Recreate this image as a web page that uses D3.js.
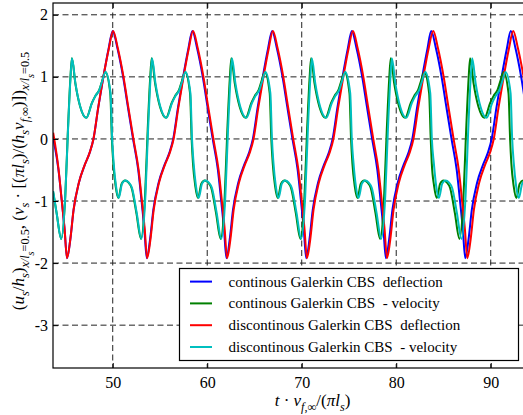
<!DOCTYPE html>
<html>
<head>
<meta charset="utf-8">
<script src="https://cdn.jsdelivr.net/npm/d3@7"></script>
<style>
  body { margin: 0; background: #fff; }
  svg { display: block; font-family: "Liberation Serif", "DejaVu Serif", serif; }
  text { white-space: pre; }
</style>
</head>
<body>
<svg id="chart" width="523" height="415"></svg>
<script>
// tick values
const xTicks = [50, 60, 70, 80, 90];
const yTicks = [-3, -2, -1, 0, 1, 2];

// continous Galerkin CBS deflection  [t, u]
const cgDeflection = [
  [43.7,0.02],[44.26,-0.5],[44.61,-1.0],[44.91,-1.46],[45.16,-1.92],[45.51,-1.62],[45.86,-1.14],[46.41,-0.71],[47.06,-0.41],[47.56,-0.22],[47.96,0],[48.46,0.5],[49.01,1.0],[49.56,1.45],
  [50.0,1.74],[50.5,1.46],[51.1,1.0],[51.6,0.52],[52.15,0],[52.7,-0.5],[53.05,-1.0],[53.35,-1.46],[53.6,-1.92],[53.95,-1.62],[54.3,-1.14],[54.85,-0.71],[55.5,-0.41],[56.0,-0.22],[56.4,0],[56.9,0.5],[57.45,1.0],[58.0,1.45],
  [58.43,1.74],[58.93,1.46],[59.53,1.0],[60.03,0.52],[60.58,0],[61.13,-0.5],[61.48,-1.0],[61.78,-1.46],[62.03,-1.92],[62.38,-1.62],[62.73,-1.14],[63.28,-0.71],[63.93,-0.41],[64.43,-0.22],[64.83,0],[65.33,0.5],[65.88,1.0],[66.43,1.45],
  [66.87,1.74],[67.37,1.46],[67.97,1.0],[68.47,0.52],[69.02,0],[69.57,-0.5],[69.92,-1.0],[70.22,-1.46],[70.47,-1.92],[70.82,-1.62],[71.17,-1.14],[71.72,-0.71],[72.37,-0.41],[72.87,-0.22],[73.27,0],[73.77,0.5],[74.32,1.0],[74.87,1.45],
  [75.3,1.74],[75.8,1.46],[76.4,1.0],[76.9,0.52],[77.45,0],[78.0,-0.5],[78.35,-1.0],[78.65,-1.46],[78.9,-1.92],[79.25,-1.62],[79.6,-1.14],[80.15,-0.71],[80.8,-0.41],[81.3,-0.22],[81.7,0],[82.2,0.5],[82.75,1.0],[83.3,1.45],
  [83.7,1.74],[84.2,1.46],[84.8,1.0],[85.3,0.52],[85.85,0],[86.4,-0.5],[86.75,-1.0],[87.05,-1.46],[87.3,-1.92],[87.65,-1.62],[88.0,-1.14],[88.55,-0.71],[89.2,-0.41],[89.7,-0.22],[90.1,0],[90.6,0.5],[91.15,1.0],[91.7,1.45],
  [92.12,1.74],[92.62,1.46],[93.22,1.0],[93.72,0.52],[94.27,0]
];

// continous Galerkin CBS velocity
const cgVelocity = [
  [43.7,-0.86],[44.06,-1.19],[44.55,-1.61],[44.98,-0.92],[45.26,0.15],[45.51,0.95],[45.68,1.30],[46.04,0.90],[46.56,0.52],[47.2,0.34],[47.8,0.58],[48.15,0.69],[48.58,0.79],[48.91,0.95],[49.21,1.08],[49.74,0.74],[49.91,0.0],
  [50.06,-0.39],[50.3,-0.75],[50.6,-0.95],[50.95,-0.72],[51.3,-0.67],[51.65,-0.70],[52.0,-0.79],[52.5,-1.19],[52.99,-1.61],[53.42,-0.92],[53.7,0.15],[53.95,0.95],[54.12,1.30],[54.48,0.90],[55.0,0.52],[55.64,0.34],[56.24,0.58],[56.59,0.69],[57.02,0.79],[57.35,0.95],[57.65,1.08],[58.18,0.74],[58.35,0.0],
  [58.49,-0.39],[58.73,-0.75],[59.03,-0.95],[59.38,-0.72],[59.73,-0.67],[60.08,-0.70],[60.43,-0.79],[60.93,-1.19],[61.42,-1.61],[61.85,-0.92],[62.13,0.15],[62.38,0.95],[62.55,1.30],[62.91,0.90],[63.43,0.52],[64.07,0.34],[64.67,0.58],[65.02,0.69],[65.45,0.79],[65.78,0.95],[66.08,1.08],[66.61,0.74],[66.78,0.0],
  [66.93,-0.39],[67.17,-0.75],[67.47,-0.95],[67.82,-0.72],[68.17,-0.67],[68.52,-0.70],[68.87,-0.79],[69.37,-1.19],[69.86,-1.61],[70.29,-0.92],[70.57,0.15],[70.82,0.95],[70.99,1.30],[71.35,0.90],[71.87,0.52],[72.51,0.34],[73.11,0.58],[73.46,0.69],[73.89,0.79],[74.22,0.95],[74.52,1.08],[75.05,0.74],[75.22,0.0],
  [75.36,-0.39],[75.6,-0.75],[75.9,-0.95],[76.25,-0.72],[76.6,-0.67],[76.95,-0.70],[77.3,-0.79],[77.8,-1.19],[78.29,-1.61],[78.72,-0.92],[79.0,0.15],[79.25,0.95],[79.42,1.30],[79.78,0.90],[80.3,0.52],[80.94,0.34],[81.54,0.58],[81.89,0.69],[82.32,0.79],[82.65,0.95],[82.95,1.08],[83.48,0.74],[83.65,0.0],
  [83.76,-0.39],[84.0,-0.75],[84.3,-0.95],[84.65,-0.72],[85.0,-0.67],[85.35,-0.70],[85.7,-0.79],[86.2,-1.19],[86.69,-1.61],[87.12,-0.92],[87.4,0.15],[87.65,0.95],[87.82,1.30],[88.18,0.90],[88.7,0.52],[89.34,0.34],[89.94,0.58],[90.29,0.69],[90.72,0.79],[91.05,0.95],[91.35,1.08],[91.88,0.74],[92.05,0.0],
  [92.18,-0.39],[92.42,-0.75],[92.72,-0.95],[93.07,-0.72],[93.42,-0.67],[93.77,-0.70],[94.12,-0.79]
];

// discontinous Galerkin CBS deflection
const dgDeflection = [
  [43.7,0.1],[44.26,-0.48],[44.61,-1.0],[44.91,-1.46],[45.16,-1.92],[45.51,-1.62],[45.86,-1.14],[46.41,-0.71],[47.06,-0.41],[47.56,-0.22],[47.96,0],[48.46,0.5],[49.01,1.0],[49.58,1.45],
  [50.04,1.74],[50.54,1.46],[51.14,1.0],[51.64,0.52],[52.19,0],[52.74,-0.5],[53.09,-1.0],[53.39,-1.46],[53.64,-1.92],[53.99,-1.62],[54.34,-1.14],[54.89,-0.71],[55.54,-0.41],[56.04,-0.22],[56.44,0],[56.94,0.5],[57.49,1.0],[58.04,1.45],
  [58.5,1.74],[59.0,1.46],[59.6,1.0],[60.1,0.52],[60.65,0],[61.2,-0.5],[61.55,-1.0],[61.85,-1.46],[62.1,-1.92],[62.45,-1.62],[62.8,-1.14],[63.35,-0.71],[64.0,-0.41],[64.5,-0.22],[64.9,0],[65.4,0.5],[65.95,1.0],[66.5,1.45],
  [66.95,1.74],[67.45,1.46],[68.05,1.0],[68.55,0.52],[69.1,0],[69.65,-0.5],[70.0,-1.0],[70.3,-1.46],[70.55,-1.92],[70.9,-1.62],[71.25,-1.14],[71.8,-0.71],[72.45,-0.41],[72.95,-0.22],[73.35,0],[73.85,0.5],[74.4,1.0],[74.95,1.45],
  [75.42,1.74],[75.92,1.46],[76.52,1.0],[77.02,0.52],[77.57,0],[78.12,-0.5],[78.47,-1.0],[78.77,-1.46],[79.02,-1.92],[79.37,-1.62],[79.72,-1.14],[80.27,-0.71],[80.92,-0.41],[81.42,-0.22],[81.82,0],[82.32,0.5],[82.87,1.0],[83.42,1.45],
  [83.92,1.74],[84.42,1.46],[85.02,1.0],[85.52,0.52],[86.07,0],[86.62,-0.5],[86.97,-1.0],[87.27,-1.46],[87.52,-1.92],[87.87,-1.62],[88.22,-1.14],[88.77,-0.71],[89.42,-0.41],[89.92,-0.22],[90.32,0],[90.82,0.5],[91.37,1.0],[91.92,1.45],
  [92.38,1.74],[92.88,1.46],[93.48,1.0],[93.98,0.52],[94.53,0]
];

// discontinous Galerkin CBS velocity
const dgVelocity = [
  [43.7,-0.84],[44.06,-1.19],[44.55,-1.61],[44.98,-0.92],[45.27,0.15],[45.52,0.95],[45.69,1.30],[46.05,0.90],[46.57,0.52],[47.21,0.34],[47.81,0.58],[48.16,0.69],[48.59,0.79],[48.92,0.95],[49.23,1.08],[49.77,0.74],[49.94,0.0],
  [50.1,-0.39],[50.34,-0.75],[50.64,-0.95],[50.99,-0.72],[51.34,-0.67],[51.69,-0.70],[52.04,-0.79],[52.54,-1.19],[53.03,-1.61],[53.46,-0.92],[53.74,0.15],[53.99,0.95],[54.16,1.30],[54.52,0.90],[55.04,0.52],[55.68,0.34],[56.28,0.58],[56.63,0.69],[57.06,0.79],[57.39,0.95],[57.69,1.08],[58.22,0.74],[58.39,0.0],
  [58.56,-0.39],[58.8,-0.75],[59.1,-0.95],[59.45,-0.72],[59.8,-0.67],[60.15,-0.70],[60.5,-0.79],[61.0,-1.19],[61.49,-1.61],[61.92,-0.92],[62.2,0.15],[62.45,0.95],[62.62,1.30],[62.98,0.90],[63.5,0.52],[64.14,0.34],[64.74,0.58],[65.09,0.69],[65.52,0.79],[65.85,0.95],[66.15,1.08],[66.68,0.74],[66.85,0.0],
  [67.01,-0.39],[67.25,-0.75],[67.55,-0.95],[67.9,-0.72],[68.25,-0.67],[68.6,-0.70],[68.95,-0.79],[69.45,-1.19],[69.94,-1.61],[70.37,-0.92],[70.65,0.15],[70.9,0.95],[71.07,1.30],[71.43,0.90],[71.95,0.52],[72.59,0.34],[73.19,0.58],[73.54,0.69],[73.97,0.79],[74.3,0.95],[74.6,1.08],[75.13,0.74],[75.3,0.0],
  [75.48,-0.39],[75.72,-0.75],[76.02,-0.95],[76.37,-0.72],[76.72,-0.67],[77.07,-0.70],[77.42,-0.79],[77.92,-1.19],[78.41,-1.61],[78.84,-0.92],[79.12,0.15],[79.37,0.95],[79.54,1.30],[79.9,0.90],[80.42,0.52],[81.06,0.34],[81.66,0.58],[82.01,0.69],[82.44,0.79],[82.77,0.95],[83.07,1.08],[83.6,0.74],[83.77,0.0],
  [83.98,-0.39],[84.22,-0.75],[84.52,-0.95],[84.87,-0.72],[85.22,-0.67],[85.57,-0.70],[85.92,-0.79],[86.42,-1.19],[86.91,-1.61],[87.34,-0.92],[87.62,0.15],[87.87,0.95],[88.04,1.30],[88.4,0.90],[88.92,0.52],[89.56,0.34],[90.16,0.58],[90.51,0.69],[90.94,0.79],[91.27,0.95],[91.57,1.08],[92.1,0.74],[92.27,0.0],
  [92.44,-0.39],[92.68,-0.75],[92.98,-0.95],[93.33,-0.72],[93.68,-0.67],[94.03,-0.70],[94.38,-0.79]
];

const seriesNames = [
  "continous Galerkin CBS  deflection",
  "continous Galerkin CBS  - velocity",
  "discontinous Galerkin CBS  deflection",
  "discontinous Galerkin CBS  - velocity"
];
const seriesColors = ["#0000ff", "#008000", "#ff0000", "#00bfbf"];
const seriesData = [cgDeflection, cgVelocity, dgDeflection, dgVelocity];

// plot area (axes run past the right edge of the picture)
const plotL = 53, plotT = 3, plotR = 572, plotB = 368;

const svg = d3.select("#chart");

const x = d3.scaleLinear().domain([43.68, 98.6]).range([plotL, plotR]);
const y = d3.scaleLinear().domain([-3.69, 2.19]).range([plotB, plotT]);

svg.append("defs").append("clipPath").attr("id", "clip")
  .append("rect").attr("x", plotL).attr("y", plotT)
  .attr("width", plotR - plotL).attr("height", plotB - plotT);

// dashed grid
const grid = svg.append("g").attr("stroke", "#222").attr("stroke-width", 1)
  .attr("stroke-dasharray", "6,3.5");
grid.selectAll(".gx").data(xTicks).enter().append("line")
  .attr("x1", d => x(d)).attr("x2", d => x(d))
  .attr("y1", plotT).attr("y2", plotB);
grid.selectAll(".gy").data(yTicks).enter().append("line")
  .attr("x1", plotL).attr("x2", plotR)
  .attr("y1", d => y(d)).attr("y2", d => y(d));

// lines
const line = d3.line()
  .x(d => x(d[0]))
  .y(d => y(d[1]))
  .curve(d3.curveMonotoneX);

svg.append("g").attr("clip-path", "url(#clip)")
  .selectAll("path").data(seriesData).enter().append("path")
  .attr("d", line)
  .attr("fill", "none")
  .attr("stroke", (d, i) => seriesColors[i])
  .attr("stroke-width", 2);

// axes frame
svg.append("rect").attr("x", plotL).attr("y", plotT)
  .attr("width", plotR - plotL).attr("height", plotB - plotT)
  .attr("fill", "none").attr("stroke", "#000").attr("stroke-width", 1.2);

// inward ticks
const xAxisB = d3.axisBottom(x).tickValues(xTicks).tickSize(-5).tickPadding(9).tickFormat(d3.format("d"));
const xAxisT = d3.axisTop(x).tickValues(xTicks).tickSize(-5).tickFormat("");
const yAxisL = d3.axisLeft(y).tickValues(yTicks).tickSize(-5).tickPadding(5).tickFormat(d => d < 0 ? "-" + Math.abs(d) : d);

function styleAxis(g) {
  g.select(".domain").remove();
  g.selectAll("line").attr("stroke", "#000");
  g.selectAll("text").attr("fill", "#000")
    .style("font-family", "Liberation Serif, serif").style("font-size", "16px");
}
svg.append("g").attr("transform", `translate(0,${plotB})`).call(xAxisB).call(styleAxis);
svg.append("g").attr("transform", `translate(0,${plotT})`).call(xAxisT).call(styleAxis);
svg.append("g").attr("transform", `translate(${plotL},0)`).call(yAxisL).call(styleAxis);

// legend
const legend = svg.append("g");
legend.append("rect")
  .attr("x", 179.5).attr("y", 268.5).attr("width", 339).attr("height", 92)
  .attr("fill", "#fff").attr("stroke", "#000").attr("stroke-width", 1.2);
const rows = legend.selectAll(".row").data(seriesNames).enter().append("g")
  .attr("transform", (d, i) => `translate(0,${281.6 + i * 21.8})`);
rows.append("line").attr("x1", 190).attr("x2", 212).attr("y1", 0).attr("y2", 0)
  .attr("stroke", (d, i) => seriesColors[i]).attr("stroke-width", 2);
rows.append("text").attr("x", 228.5).attr("y", 5)
  .style("font-size", "15px").text(d => d);

// math-like text with italics and subscripts
function mathText(sel, parts, size) {
  let cur = 0;
  parts.forEach(p => {
    const lvl = p.s || 0;
    const off = lvl * size * 0.28;
    sel.append("tspan")
      .attr("dy", off - cur)
      .style("font-size", (lvl === 0 ? size : lvl === 1 ? size * 0.72 : size * 0.6) + "px")
      .style("font-style", p.i ? "italic" : "normal")
      .text(p.t);
    cur = off;
  });
}

const xLabel = svg.append("text").attr("x", 312.5).attr("y", 406).attr("text-anchor", "middle");
mathText(xLabel, [
  {t: "t", i: 1}, {t: " · "}, {t: "v", i: 1}, {t: "f", i: 1, s: 1}, {t: ",∞", s: 1},
  {t: "/("}, {t: "πl", i: 1}, {t: "s", i: 1, s: 1}, {t: ")"}
], 17);

const yLabel = svg.append("text")
  .attr("transform", "translate(24,181) rotate(-90)")
  .attr("text-anchor", "middle");
mathText(yLabel, [
  {t: "("}, {t: "u", i: 1}, {t: "s", i: 1, s: 1}, {t: "/"}, {t: "h", i: 1}, {t: "s", i: 1, s: 1}, {t: ")"},
  {t: "x/l", i: 1, s: 1}, {t: "s", i: 1, s: 2}, {t: "=0.5", s: 1},
  {t: ", ("}, {t: "v", i: 1}, {t: "s", i: 1, s: 1}, {t: " · [("}, {t: "πl", i: 1}, {t: "s", i: 1, s: 1},
  {t: ")/("}, {t: "h", i: 1}, {t: "s", i: 1, s: 1}, {t: "v", i: 1}, {t: "f", i: 1, s: 1}, {t: ",∞", s: 1},
  {t: ")])"}, {t: "x/l", i: 1, s: 1}, {t: "s", i: 1, s: 2}, {t: "=0.5", s: 1}
], 17);
</script>
</body>
</html>
